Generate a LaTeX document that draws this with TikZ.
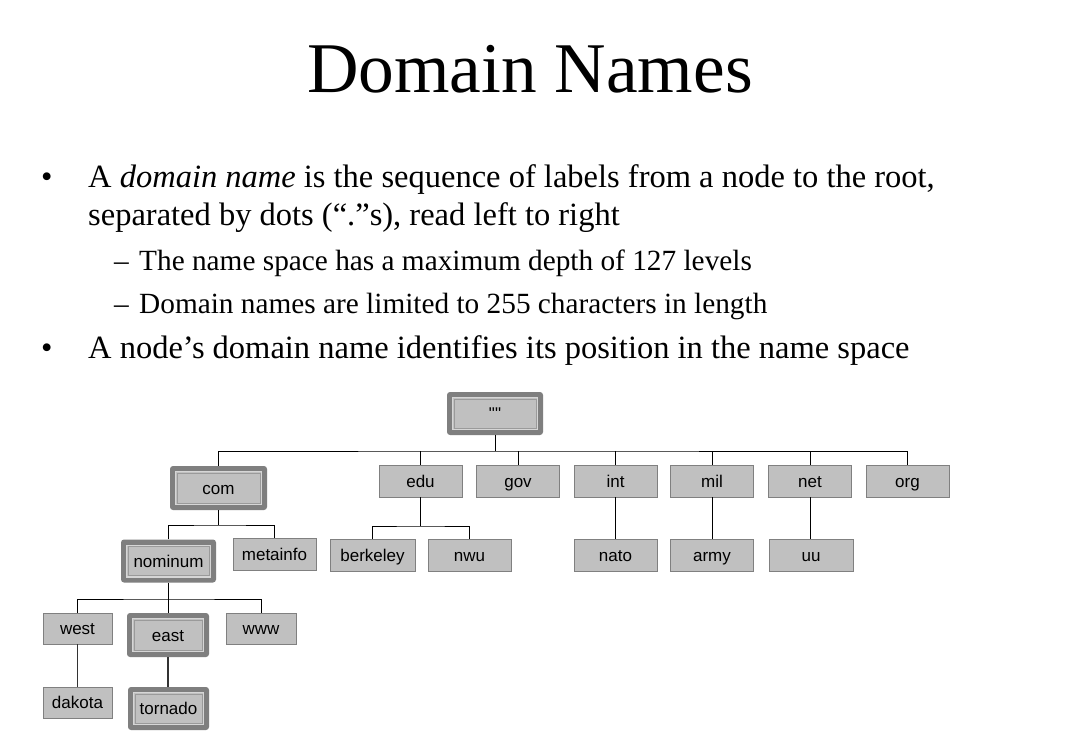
\documentclass[tikz,border=0pt]{standalone}
\usepackage{fontspec}
\setmainfont{Liberation Serif}
\newfontfamily\boxfont{Liberation Sans}[Ligatures=TeXOff]
\definecolor{boxfill}{HTML}{C0C0C0}
\definecolor{boxline}{HTML}{808080}
\definecolor{hlframe}{HTML}{7F7F7F}
\definecolor{hlinner}{HTML}{D6D6D6}
\definecolor{hlinner2}{HTML}{9A9A9A}
\tikzset{
  boxtext/.style={inner sep=0pt, text height=14pt, text depth=2pt,
    font=\boxfont\fontsize{17}{20}\selectfont},
  dom/.style={boxtext, draw=boxline, fill=boxfill, line width=0.9pt, minimum width=83pt,
    minimum height=32pt},
  hl/.style={boxtext, fill=hlframe, draw=none, rounded corners=3pt, minimum width=97pt,
    minimum height=44pt,
    path picture={
      \fill[boxfill, sharp corners] ([shift={(5pt,5pt)}]path picture bounding box.south west)
        rectangle ([shift={(-5pt,-5pt)}]path picture bounding box.north east);
      \draw[hlinner, line width=1.2pt, sharp corners] ([shift={(5.6pt,5.6pt)}]path picture bounding box.south west)
        rectangle ([shift={(-5.6pt,-5.6pt)}]path picture bounding box.north east);
      \draw[hlinner2, line width=0.6pt, sharp corners] ([shift={(6.8pt,6.8pt)}]path picture bounding box.south west)
        rectangle ([shift={(-6.8pt,-6.8pt)}]path picture bounding box.north east);
    }},
  link/.style={draw=black, line width=0.9pt},
  bodytext/.style={anchor=base west, inner sep=0pt, font=\fontsize{32.5}{38}\selectfont},
  subtext/.style={anchor=base west, inner sep=0pt, font=\fontsize{29.3}{34}\selectfont}
}
\begin{document}
\begin{tikzpicture}[x=1pt,y=-1pt]
\useasboundingbox[fill=white] (0,0) rectangle (1089,751);

% Title and text
\node[anchor=base, inner sep=0pt, font=\fontsize{71.3}{80}\selectfont] (title) at (530,93) {Domain Names};
\node[bodytext] (b1) at (41,188) {\textbullet};
\node[bodytext] (t1a) at (88,188) {A \textit{domain name} is the sequence of labels from a node to the root,};
\node[bodytext] (t1b) at (88,226) {separated by dots (“.”s), read left to right};
\node[subtext] (d1) at (114,271) {–};
\node[subtext] (s1) at (139,271) {The name space has a maximum depth of 127 levels};
\node[subtext] (d2) at (114,313) {–};
\node[subtext] (s2) at (139,313) {Domain names are limited to 255 characters in length};
\node[bodytext] (b2) at (41,358) {\textbullet};
\node[bodytext] (t2) at (88,358) {A node’s domain name identifies its position in the name space};

% Tree nodes
\node[hl, minimum width=96pt, minimum height=43pt] (root) at (495,413.5) {""};
\node[hl] (com) at (218.5,488) {com};
\node[dom] (edu) at (420.5,481) {edu};
\node[dom] (gov) at (518,481) {gov};
\node[dom] (int) at (615.5,481) {int};
\node[dom] (mil) at (712,481) {mil};
\node[dom] (net) at (810,481) {net};
\node[dom] (org) at (907.5,481) {org};

\node[hl, minimum width=95pt, minimum height=43pt] (nominum) at (168.5,561) {nominum};
\node[dom] (metainfo) at (274.5,554.5) {metainfo};
\node[dom, minimum width=85pt] (berkeley) at (372.5,555) {berkeley};
\node[dom] (nwu) at (469.5,555) {nwu};
\node[dom] (nato) at (615.5,555) {nato};
\node[dom] (army) at (712,555) {army};
\node[dom, minimum width=84pt] (uu) at (811,555) {uu};

\node[dom, minimum width=69pt, minimum height=31pt] (west) at (77.5,628.5) {west};
\node[hl, minimum width=82pt, minimum height=44pt] (east) at (168,635) {east};
\node[dom, minimum width=70pt, minimum height=31pt] (www) at (261,628.5) {www};
\node[dom, minimum width=69pt, minimum height=31pt] (dakota) at (77.5,702.5) {dakota};
\node[hl, minimum width=81pt, minimum height=43pt] (tornado) at (168.5,708.5) {tornado};

% Connectors
\coordinate (j0) at (495,451);
\coordinate (j1) at (218.5,525);
\coordinate (j2) at (420.5,526);
\coordinate (j3) at (168.5,599);

\draw[link] (root) -- (j0);
\draw[link] (com.north) |- (j0) -| (org.north);
\foreach \n in {edu,gov,int,mil,net}{
  \draw[link] (\n.north) -- (\n.north |- j0);
}
\draw[link] (com) -- (j1);
\draw[link] (nominum.north) |- (j1) -| (metainfo.north);
\draw[link] (edu) -- (j2);
\draw[link] (berkeley.north) |- (j2) -| (nwu.north);
\draw[link] (int) -- (nato);
\draw[link] (mil) -- (army);
\draw[link] (net.south) -- (net.south |- uu.north);
\draw[link] (nominum) -- (j3);
\draw[link] (west.north) |- (j3) -| (www.north);
\draw[link] (east.north) -- (east.north |- j3);
\draw[link, draw=black!80, line width=1.1pt] (west) -- (dakota);
\draw[link, draw=black!80, line width=1.1pt] (east) -- (east.south |- tornado.north);
\end{tikzpicture}
\end{document}
